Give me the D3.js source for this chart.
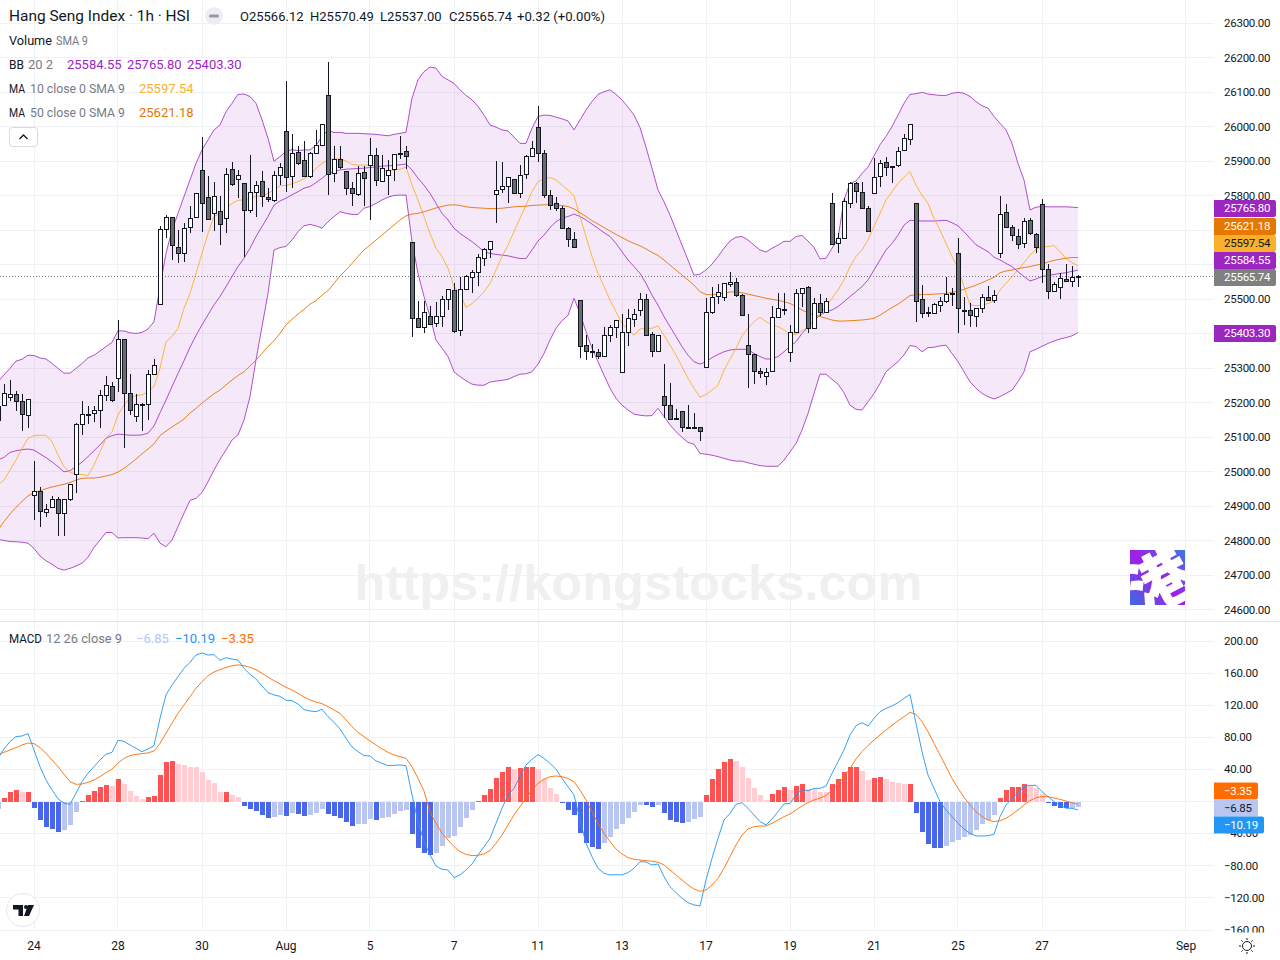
<!DOCTYPE html>
<html><head><meta charset="utf-8">
<script src="https://d3js.org/d3.v7.min.js"></script>
<style>html,body{margin:0;padding:0;background:#fff}svg{display:block}text{font-family:Roboto,sans-serif}</style>
</head><body><svg id="c" width="1280" height="960"></svg>
<script>
const opens=[25190,25193,25216,25225,25204,25164,24932,24944,24883,24897,
24920,24880,24920,24993,25138,25166,25170,25178,25222,25248,
25271,25384,25228,25161,25197,25196,25283,25485,25703,25738,
25651,25635,25709,25738,25874,25796,25751,25755,25735,25877,
25848,25836,25758,25810,25842,25796,25787,25860,25987,25857,
25926,25903,25857,25923,25947,26092,25865,25906,25873,25822,
25804,25868,25890,25918,25842,25860,25877,25925,25929,25665,
25445,25421,25451,25430,25451,25500,25526,25410,25529,25564,
25578,25619,25645,25804,25819,25828,25848,25807,25862,25915,
25999,25923,25802,25778,25764,25706,25674,25497,25367,25351,
25346,25335,25396,25419,25288,25404,25442,25468,25500,25398,
25349,25219,25193,25155,25175,25131,25131,25129,25303,25462,
25509,25506,25543,25549,25512,25367,25340,25291,25277,25291,
25448,25473,25346,25404,25517,25535,25416,25488,25462,25778,
25662,25677,25778,25836,25810,25764,25807,25857,25897,25885,
25889,25932,25964,25778,25500,25464,25459,25483,25494,25518,
25633,25469,25468,25451,25474,25506,25497,25633,25752,25709,
25683,25662,25729,25688,25775,25587,25523,25535,25558,25552,25566.12];
const closes=[25150,25228,25225,25204,25167,25210,24944,24886,24891,24920,
24880,24920,24964,25138,25167,25168,25178,25222,25251,25207,
25384,25228,25178,25196,25196,25283,25309,25703,25738,25656,
25635,25706,25735,25807,25778,25732,25799,25717,25862,25833,
25860,25758,25810,25831,25799,25790,25860,25883,25854,25923,
25894,25857,25923,25947,26007,25862,25906,25883,25822,25807,
25865,25851,25918,25845,25880,25874,25920,25923,25915,25445,
25421,25462,25427,25451,25500,25529,25407,25529,25567,25578,
25622,25645,25668,25816,25828,25854,25807,25860,25915,25938,
25923,25802,25773,25764,25706,25674,25651,25364,25349,25350,
25335,25396,25419,25439,25404,25445,25456,25500,25396,25349,
25396,25195,25152,25156,25131,25130,25130,25117,25462,25506,
25520,25546,25549,25512,25454,25340,25291,25285,25288,25448,
25474,25472,25404,25517,25532,25416,25488,25462,25494,25659,
25677,25784,25836,25813,25764,25697,25854,25894,25883,25884,
25929,25967,26007,25494,25459,25463,25485,25494,25514,25517,
25474,25468,25454,25474,25506,25497,25512,25746,25709,25686,
25659,25726,25691,25651,25587,25523,25543,25561,25552,25564,25565.74];
const highs=[25200,25255,25266,25234,25226,25210,25031,24955,24906,24929,
24926,24920,24964,25141,25205,25191,25191,25237,25278,25259,
25440,25384,25283,25225,25198,25295,25326,25713,25744,25738,
25701,25722,25771,25807,25971,25856,25841,25798,25880,25897,
25875,25836,25918,25843,25872,25822,25872,25894,26133,25979,
25945,25959,25928,25991,26007,26188,25943,25943,25873,25841,
25885,25885,25967,25938,25918,25904,25920,25974,25943,25665,
25495,25494,25481,25491,25510,25529,25548,25566,25569,25585,
25630,25648,25668,25901,25899,25854,25848,25889,25918,25959,
26061,25933,25817,25796,25770,25709,25694,25497,25396,25369,
25355,25419,25425,25439,25456,25472,25472,25518,25515,25404,
25396,25312,25257,25181,25175,25195,25169,25131,25503,25535,
25544,25546,25579,25561,25514,25457,25340,25300,25300,25480,
25517,25517,25425,25529,25532,25539,25503,25514,25503,25807,
25691,25793,25839,25841,25839,25770,25909,25904,25912,25887,
25941,25978,26007,25778,25541,25479,25490,25506,25564,25532,
25677,25508,25488,25474,25514,25539,25527,25800,25776,25715,
25705,25735,25735,25693,25791,25602,25551,25575,25602,25597,25570.49];
const lows=[25100,25193,25205,25177,25119,25128,24859,24841,24870,24897,
24815,24815,24914,24940,25107,25139,25144,25127,25205,25202,
25231,25070,25165,25144,25119,25150,25280,25483,25677,25614,
25604,25609,25693,25738,25696,25732,25699,25657,25693,25827,
25795,25624,25749,25740,25767,25781,25781,25832,25812,25822,
25889,25857,25853,25923,25947,25802,25841,25877,25802,25769,
25798,25769,25730,25827,25842,25802,25843,25906,25877,25392,
25416,25403,25427,25421,25421,25469,25401,25395,25527,25519,
25540,25597,25621,25722,25809,25780,25804,25795,25850,25915,
25899,25793,25759,25756,25706,25651,25651,25331,25325,25331,
25328,25335,25375,25387,25288,25366,25420,25452,25396,25334,
25346,25155,25152,25152,25116,25130,25130,25090,25303,25456,
25486,25496,25537,25506,25454,25242,25255,25271,25251,25291,
25445,25454,25317,25404,25479,25401,25416,25452,25462,25657,
25633,25677,25766,25778,25764,25697,25807,25825,25858,25838,
25883,25929,25947,25433,25445,25448,25459,25462,25488,25481,
25403,25426,25419,25421,25459,25497,25488,25619,25709,25670,
25645,25648,25686,25635,25546,25502,25523,25502,25550,25537,25537];
const bbUpper=[25261,25281,25300,25321,25326,25338,25337,25330,25327,25314,
25300,25286,25286,25300,25314,25330,25338,25350,25363,25375,
25409,25408,25403,25401,25404,25414,25435,25537,25633,25701,
25749,25798,25846,25894,25933,25962,25991,26005,26044,26068,
26094,26095,26088,26068,26020,25967,25900,25914,25928,25934,
25931,25933,25933,25946,25972,25991,25983,25984,25981,25981,
25981,25980,25979,25978,25976,25974,25978,25981,25984,26083,
26136,26160,26173,26170,26146,26136,26126,26107,26091,26078,
26059,26034,26005,25999,25991,25988,25970,25952,25952,25996,
26030,26034,26033,26028,26023,26017,25991,26020,26049,26073,
26094,26102,26107,26094,26078,26057,26034,25998,25941,25880,
25817,25783,25744,25701,25657,25614,25570,25573,25585,25602,
25624,25648,25669,25680,25682,25672,25657,25643,25637,25648,
25657,25668,25668,25682,25685,25669,25650,25617,25619,25648,
25677,25788,25836,25843,25865,25883,25916,25948,25972,26001,
26034,26068,26094,26096,26100,26095,26093,26091,26091,26097,
26100,26097,26088,26073,26061,26054,26030,26010,25991,25952,
25894,25846,25759,25767,25769,25768,25768,25768,25768,25767,25765.8];
const bbBasis=[25034,25042,25056,25061,25064,25066,25063,25052,25041,25029,
25015,25000,25003,25015,25028,25044,25061,25078,25097,25105,
25109,25108,25106,25106,25107,25112,25133,25171,25208,25247,
25285,25322,25361,25395,25426,25455,25484,25508,25537,25566,
25595,25619,25648,25682,25711,25740,25773,25785,25793,25803,
25812,25822,25827,25838,25851,25865,25870,25875,25877,25878,
25879,25880,25882,25884,25886,25887,25888,25890,25892,25875,
25851,25831,25807,25778,25749,25730,25706,25691,25679,25667,
25653,25638,25633,25630,25628,25626,25622,25618,25618,25643,
25669,25686,25708,25725,25735,25740,25747,25740,25730,25718,
25706,25693,25682,25662,25638,25614,25595,25575,25546,25512,
25483,25450,25421,25392,25363,25338,25319,25312,25319,25331,
25340,25348,25353,25355,25355,25355,25343,25334,25327,25327,
25334,25348,25363,25377,25401,25419,25438,25454,25464,25469,
25479,25493,25508,25522,25537,25556,25585,25614,25643,25662,
25686,25715,25729,25728,25727,25727,25727,25728,25729,25722,
25713,25696,25677,25658,25648,25638,25622,25614,25604,25595,
25580,25566,25553,25559,25566,25569,25572,25575,25577,25581,25584.55];
const bbLower=[24804,24801,24798,24797,24796,24793,24778,24756,24742,24732,
24720,24715,24720,24727,24735,24752,24781,24802,24824,24824,
24808,24809,24809,24809,24808,24806,24822,24793,24783,24802,
24841,24880,24917,24923,24940,24971,25005,25036,25063,25092,
25107,25150,25218,25324,25421,25517,25643,25650,25653,25672,
25696,25713,25717,25713,25706,25725,25740,25754,25749,25746,
25746,25764,25769,25778,25788,25796,25801,25802,25802,25667,
25575,25508,25450,25382,25358,25334,25290,25276,25264,25254,
25251,25251,25260,25263,25265,25268,25276,25283,25284,25290,
25312,25343,25382,25416,25438,25453,25503,25459,25406,25358,
25319,25280,25242,25213,25193,25179,25167,25164,25162,25163,
25184,25160,25136,25116,25100,25085,25080,25053,25051,25048,
25044,25039,25034,25031,25031,25026,25022,25018,25016,25016,
25016,25034,25058,25082,25121,25169,25227,25283,25283,25268,
25254,25229,25193,25181,25179,25203,25227,25256,25290,25305,
25319,25339,25366,25363,25348,25360,25361,25365,25367,25343,
25319,25290,25261,25242,25227,25218,25211,25218,25227,25237,
25261,25290,25348,25355,25364,25372,25379,25385,25389,25394,25403.3];
const ma10=[24962,24976,25005,25034,25068,25097,25105,25106,25106,25087,
25049,25015,24998,24994,24992,24989,25020,25058,25097,25116,
25165,25194,25213,25221,25223,25232,25247,25300,25377,25392,
25416,25474,25517,25575,25633,25691,25740,25749,25764,25778,
25787,25788,25793,25798,25800,25807,25817,25829,25830,25835,
25841,25849,25860,25880,25894,25904,25907,25907,25901,25891,
25889,25889,25889,25888,25875,25870,25875,25877,25883,25831,
25788,25740,25691,25648,25624,25590,25537,25517,25476,25488,
25503,25522,25546,25585,25624,25657,25696,25735,25773,25812,
25841,25849,25853,25846,25831,25817,25800,25740,25682,25624,
25575,25537,25498,25464,25430,25413,25396,25414,25416,25416,
25423,25396,25367,25338,25305,25271,25242,25216,25224,25237,
25251,25295,25326,25358,25394,25416,25435,25448,25435,25425,
25421,25411,25399,25398,25409,25419,25438,25457,25479,25503,
25527,25556,25595,25624,25643,25672,25711,25749,25788,25812,
25836,25854,25870,25831,25802,25778,25735,25701,25662,25624,
25590,25537,25483,25482,25483,25488,25495,25527,25546,25566,
25585,25606,25628,25646,25651,25653,25656,25638,25619,25606,25597.54];
const ma50=[24831,24856,24878,24897,24914,24930,24940,24945,24951,24956,
24960,24964,24969,24976,24981,24982,24982,24984,24988,24992,
24999,25010,25023,25037,25052,25066,25081,25105,25118,25130,
25141,25153,25170,25184,25199,25213,25226,25237,25252,25266,
25279,25290,25307,25324,25343,25363,25380,25401,25426,25442,
25457,25471,25486,25496,25512,25525,25546,25568,25585,25604,
25624,25643,25657,25672,25686,25701,25715,25730,25742,25747,
25749,25754,25759,25765,25769,25773,25774,25772,25768,25766,
25765,25764,25763,25763,25764,25766,25768,25769,25770,25772,
25773,25774,25774,25773,25772,25769,25762,25751,25740,25728,
25718,25708,25698,25688,25679,25670,25662,25655,25646,25636,
25627,25614,25599,25585,25570,25556,25541,25522,25514,25513,
25515,25518,25521,25522,25519,25515,25511,25507,25503,25500,
25497,25493,25488,25479,25469,25461,25454,25450,25445,25440,
25437,25437,25438,25439,25440,25442,25445,25454,25465,25476,
25486,25498,25511,25513,25514,25514,25515,25516,25517,25520,
25524,25529,25535,25541,25548,25556,25564,25577,25582,25585,
25589,25592,25595,25599,25602,25608,25613,25616,25619,25621,25621.18];
const macdHist=[-9.5,4.2,11.6,14.1,11.6,11.8,-8.3,-23.3,-32,-34.5,
-38.2,-35.7,-29.5,-13.3,0.8,7.9,12.9,17.9,20.4,19.1,
27.8,21.6,12.9,6.6,2.9,5.4,6.6,32.8,49,50.3,
46.5,45.3,42.8,42.7,36.6,26.6,22.8,11.6,11.8,7.9,
5.4,-5.8,-9.6,-12,-17,-20.8,-19.5,-17,-18.3,-14.5,
-15.8,-18.3,-17,-14.5,-9.6,-15.8,-18.3,-20.8,-25.8,-30.7,
-28.2,-28,-22,-23.3,-20.8,-19.5,-15.8,-12,-10.8,-40.7,
-58.2,-64.4,-66.5,-64,-55.3,-44.9,-42.8,-31.6,-20.4,-10.4,
0.8,8.3,15.8,29.5,37,43.2,40.7,42,43.2,43.3,
40.7,28.2,17,9.6,-1.7,-10.4,-16.6,-39,-51.5,-56.5,
-59,-51.5,-44,-34,-27.8,-20.4,-12.9,-4.2,-4.3,-6.6,
-4.2,-14.1,-22.8,-25.3,-26.6,-25.3,-21.6,-19.1,8.3,28.2,
40.7,49.4,53.2,50.7,43.2,29.5,17,8.3,2,9.6,
14.5,18.3,14.5,19.5,22,15.8,15.7,12,11.9,22,
28.2,37,43.2,43.3,38.2,27,29.5,30.7,28.2,24.5,
23.3,22,22.1,-14.1,-37.8,-52.8,-57.7,-57.8,-55.3,-50.3,
-47.8,-44,-41.5,-35.3,-27.8,-22.8,-16.6,4.6,14.5,18.3,
18.4,22,19.5,17,9.6,-1.7,-5.4,-7.9,-8,-7.7,-6.85];
const macdLine=[54,65.7,74.8,81,81.9,84.8,64.4,43.6,27,14.6,
3.4,-2,-3.3,10.4,25,35.3,43.6,52,59,61.5,
76.5,75.2,70.6,66.5,62.3,65.7,69.8,103.9,133,145.4,
155.8,166.2,173.7,182.8,185.3,182.8,183.2,176.2,179.5,177.8,
176.6,166.2,158.7,152.9,144.2,135.9,133,131.3,126.3,125.9,
121.8,114.7,113,112.2,115.1,106,98.9,90.6,79,68.2,
62.3,57.4,57,50.7,47.8,44.9,45.3,45.7,44.9,8.3,
-24.9,-49.8,-66.5,-80.2,-84.4,-85.2,-94.7,-91.4,-85.2,-77.7,
-66.5,-56.1,-45.7,-27,-8.3,8.3,16.6,31.1,45.7,52.7,
58.6,54,47.8,40.3,29,18.7,8.3,-22.9,-51.9,-68.6,
-83.1,-89.3,-91.4,-91,-91.4,-88.5,-83.1,-74.8,-75.2,-79,
-77.7,-93.5,-106,-113.4,-120.5,-125.9,-128.8,-130,-97.6,-70.6,
-45.7,-22.9,-14.6,-3.3,-1.3,-8.3,-16.6,-25,-29.1,-21.6,
-12.5,-2.9,-2.1,8.3,15.3,13.3,16.6,16.6,19.5,35.3,
49.8,64.4,83.1,94.7,98.4,94.3,103.8,112.1,116.3,119.2,
123.4,128.8,133.7,97.6,62.3,33.2,16.6,0,-10.4,-18.7,
-27,-34.1,-39.5,-42.8,-42.8,-42.4,-40.7,-18.7,-4.2,4.1,
10.4,18.7,20.3,20.3,12.4,6.2,0,-4.2,-8.3,-8.3,-10.19];
const macdSignal=[59,61.5,64.4,67.3,70.6,73.1,72.3,67.3,60.3,52,
43.6,34.1,25,21.6,22,24.1,27,31.2,36.2,40.7,
47.8,54,57.4,59,59.9,60.7,63.2,72.7,85.2,97.7,
110.1,120.5,130.9,141.3,149.6,157,161.6,164.5,167.4,169.5,
170.4,169.5,167.4,164.5,160,155.4,150.8,146.7,142.5,139.2,
135,130.5,126.7,124.2,122.2,118.4,114.3,110.1,101.8,93.5,
86.4,81,75.6,70.6,65.7,61.5,58.2,56.1,54,43.6,
29.1,13.3,-12.5,-27,-39.5,-47.8,-56.1,-62.3,-65.7,-67.3,
-66.9,-65.2,-61.1,-52,-41.6,-29.1,-16.6,-6.3,4.1,14.5,
22.8,27.8,31.1,32,31.1,29,24.9,14.5,2,-12.5,
-27,-39.5,-49.9,-59,-65.2,-69.8,-71.9,-72.7,-73.5,-74.4,
-75.6,-78.9,-85.2,-91.4,-97.6,-103.9,-108.9,-111.8,-110.1,-103.9,
-95.6,-83.1,-68.6,-54,-41.6,-34.1,-31.2,-30.4,-30.4,-27,
-22.9,-18.7,-15.4,-10.4,-5.4,-1.3,2,4.5,7.5,14.5,
21.6,31.1,41.5,53.2,62.3,69.8,76.8,83.1,89.3,95.1,
100.9,105.9,111.3,108.8,99.7,87.2,72.7,58.1,43.6,29,
16.6,5.4,-4.2,-12.5,-18.7,-22.9,-24.9,-23.7,-20.8,-15.8,
-10.4,-4.2,1.2,5,6.2,6.2,4.5,2.9,0.8,-1.3,-3.35];
const priceTicks=d3.range(24600,26301,100);
const macdTicks=d3.range(-160,201,40);
const timeBars=[6,20,34,48,62,76,90,104,118,132,146,160,174,198];
const timeLabels=["24","28","30","Aug","5","7","11","13","17","19","21","25","27","Sep"];
const chartW=1214;
const dark="#131722",gray="#787b86",purple="#9c27c0",amber="#f9b02c",orange="#e67700",blueLine="#2196f3",sigLine="#ff6d00";
const fmt=d=>d.toFixed(2).replace("-","\u2212");

const svg=d3.select("#c");
const defs=svg.append("defs");
const clip=(id,x,y,w,h)=>defs.append("clipPath").attr("id",id).append("rect").attr("x",x).attr("y",y).attr("width",w).attr("height",h);
clip("pMain",0,0,chartW,621);clip("pMacd",0,622,chartW,310);clip("pAxis",chartW,622,66,310.5);
const grad=defs.append("linearGradient").attr("id","lg").attr("x1","0").attr("y1","1").attr("x2","1").attr("y2","0");
grad.append("stop").attr("offset","0").attr("stop-color","#3d6be4");
grad.append("stop").attr("offset","0.5").attr("stop-color","#a01ee6");
grad.append("stop").attr("offset","1").attr("stop-color","#3d78e4");

const x=d3.scaleLinear([0,214],[-2,1282]);
const yP=d3.scaleLinear([24600,26300],[609.8,23.3]);
const yM=d3.scaleLinear([-160,200],[930,641.2]);
const snap=v=>Math.round(v-.5)+.5;

// last-value tags: price tags stack upward from the last close
const priceTags=[[closes[180],"#808080","#fff"],[bbBasis[180],purple,"#fff"],[ma10[180],amber,"#131722"],[ma50[180],orange,"#fff"],[bbUpper[180],purple,"#fff"]];
let prev=Infinity;
const priceTagY=priceTags.map(([v])=>{const yc=Math.min(yP(v),prev-17);prev=yc;return yc;});
priceTagY.push(yP(bbLower[180]));
const midY=yM(macdHist[180]);
const macdTagY=[midY-17,midY,midY+17];
const shown=(ticks,y,tags)=>ticks.filter(t=>!tags.some(c=>Math.abs(y(t)-c)<7));

// grid
const grid=svg.append("g").attr("stroke","#f0f1f4").attr("stroke-width",1).attr("shape-rendering","crispEdges");
priceTicks.forEach(t=>grid.append("line").attr("x1",0).attr("x2",chartW).attr("y1",snap(yP(t))).attr("y2",snap(yP(t))));
macdTicks.forEach(t=>grid.append("line").attr("x1",0).attr("x2",chartW).attr("y1",snap(yM(t))).attr("y2",snap(yM(t))));
timeBars.forEach(b=>grid.append("line").attr("x1",snap(x(b))).attr("x2",snap(x(b))).attr("y1",0).attr("y2",931));

// watermark
svg.append("text").attr("x",638.5).attr("y",600).attr("text-anchor","middle")
 .style("font-family","'Liberation Sans',sans-serif").style("font-weight",700).style("font-size","50.6px").attr("fill","#f0f0f0").text("https://kongstocks.com");

const main=svg.append("g").attr("clip-path","url(#pMain)");
const idx=d3.range(opens.length);
main.append("path").attr("fill","#9c27c0").attr("fill-opacity",0.1)
 .attr("d",d3.area().x(i=>x(i)).y0(i=>yP(bbLower[i])).y1(i=>yP(bbUpper[i]))(idx));
const lineOf=(arr,y)=>d3.line().x((d,i)=>x(i)).y(d=>y(d))(arr);
[[bbUpper,purple,.8],[bbLower,purple,.8],[bbBasis,purple,.8],[ma10,amber,.9],[ma50,orange,.9]].forEach(([a,c,o])=>
 main.append("path").attr("fill","none").attr("stroke",c).attr("stroke-opacity",o).attr("stroke-width",1).attr("d",lineOf(a,yP)));
// last price dotted
main.append("line").attr("x1",0).attr("x2",chartW).attr("y1",snap(yP(closes[180]))).attr("y2",snap(yP(closes[180])))
 .attr("stroke","#787b86").attr("stroke-width",1).attr("stroke-dasharray","1 2");
// candles
const cg=main.append("g").attr("shape-rendering","crispEdges");
idx.forEach(i=>{
 const cx=Math.round(x(i))+.5;
 const top=Math.round(yP(Math.max(opens[i],closes[i])));
 const bot=Math.round(yP(Math.min(opens[i],closes[i])));
 cg.append("line").attr("x1",cx).attr("x2",cx).attr("y1",yP(highs[i])).attr("y2",yP(lows[i])).attr("stroke","#131722");
 cg.append("rect").attr("x",cx-2).attr("width",4).attr("y",top+.5).attr("height",Math.max(bot-top,1))
  .attr("fill",closes[i]>=opens[i]?"#ffffff":"#6b6b6b").attr("stroke","#131722");
});

// MACD pane
svg.append("line").attr("x1",0).attr("x2",1280).attr("y1",621.5).attr("y2",621.5).attr("stroke","#e0e3eb");
const mg=svg.append("g").attr("clip-path","url(#pMacd)");
const y0=yM(0);
const hg=mg.append("g").attr("shape-rendering","crispEdges");
macdHist.forEach((v,i)=>{
 const p=i?macdHist[i-1]:v;
 const col=v>=0?(v>=p?"#ff5252":"#ffcdd2"):(v<p?"#4a67ec":"#b9c6f2");
 hg.append("rect").attr("x",Math.round(x(i))-2).attr("width",5)
  .attr("y",Math.min(yM(v),y0)).attr("height",Math.abs(yM(v)-y0)).attr("fill",col);
});
mg.append("path").attr("fill","none").attr("stroke",blueLine).attr("stroke-opacity",.9).attr("d",lineOf(macdLine,yM));
mg.append("path").attr("fill","none").attr("stroke",sigLine).attr("stroke-opacity",.9).attr("d",lineOf(macdSignal,yM));

// axes
const styleAxis=g=>{g.select(".domain").remove();g.selectAll("text").attr("fill",dark).style("font-size","12px").style("font-family","Roboto,sans-serif");};
const narrow=g=>g.selectAll("text").style("font-size","11.5px").style("letter-spacing","-0.25px");
svg.append("g").attr("transform","translate(1214,0)").call(d3.axisRight(yP).tickValues(shown(priceTicks,yP,priceTagY.map(v=>v+.5))).tickSize(0).tickPadding(10).tickFormat(fmt)).call(styleAxis).call(narrow);
svg.append("g").attr("clip-path","url(#pAxis)").append("g").attr("transform","translate(1214,-0.5)")
 .call(d3.axisRight(yM).tickValues(shown(macdTicks,yM,macdTagY)).tickSize(0).tickPadding(10).tickFormat(fmt)).call(styleAxis).call(narrow);
svg.append("g").attr("transform","translate(-0.5,933)").call(d3.axisBottom(x).tickValues(timeBars).tickSize(0).tickPadding(8).tickFormat((d,i)=>timeLabels[i])).call(styleAxis);

// last-value pills
const pill=(yc0,val,bg,fg,w)=>{
 const yc=yc0+.8;
 const g=svg.append("g");
 g.append("path").attr("fill",bg).attr("d",`M1214 ${yc-8.5}H${1214+w-2}a2 2 0 0 1 2 2V${yc+6.5}a2 2 0 0 1 -2 2H1214Z`);
 g.append("text").attr("x",1224).attr("y",yc+4).attr("fill",fg).style("font-size","11.5px").style("letter-spacing","-0.25px").text(fmt(val));
};
priceTags.forEach(([v,bg,fg],i)=>pill(priceTagY[i],v,bg,fg,62));
pill(priceTagY[5],bbLower[180],purple,"#fff",62);
pill(macdTagY[0],macdSignal[180],"#ff6d00","#fff",44);
pill(macdTagY[1],macdHist[180],"#b9c6f2","#131722",44);
pill(macdTagY[2],macdLine[180],"#2196f3","#fff",50);

// legend
const lg=svg.append("g");
const t=(xp,yp,s,c,fs,len)=>{const e=lg.append("text").attr("x",xp).attr("y",yp).attr("fill",c).style("font-size",(fs||13)+"px").text(s);
 if(len)e.attr("textLength",len).attr("lengthAdjust","spacingAndGlyphs");return e;};
t(9,21,"Hang Seng Index \u00b7 1h \u00b7 HSI",dark,15,181);
lg.append("circle").attr("cx",214).attr("cy",16).attr("r",9).attr("fill","#eceef2");
lg.append("rect").attr("x",209).attr("y",14.5).attr("width",10).attr("height",3).attr("rx",1.5).attr("fill","#9598a1");
const ohlc=[["O",opens[180]],["H",highs[180]],["L",lows[180]],["C",closes[180]]];
const ohlcX=[240,310,380,449];
ohlc.forEach(([k,v],i)=>t(ohlcX[i],21,k+v.toFixed(2),dark));
t(517,21,"+0.32 (+0.00%)",dark,13,88);
t(9,45,"Volume",dark,13,43);t(56,45,"SMA 9",gray,13,32);
t(9,69,"BB",dark,13,15);t(28,69,"20 2",gray,13,25);
t(67,69,bbBasis[180].toFixed(2),purple);t(127,69,bbUpper[180].toFixed(2),purple);t(187,69,bbLower[180].toFixed(2),purple);
t(9,93,"MA",dark,13,16);t(30,93,"10 close 0 SMA 9",gray,13,95);t(139,93,ma10[180].toFixed(2),amber);
t(9,117,"MA",dark,13,16);t(30,117,"50 close 0 SMA 9",gray,13,95);t(139,117,ma50[180].toFixed(2),orange);
lg.append("rect").attr("x",9.5).attr("y",127.5).attr("width",28).attr("height",19).attr("rx",3).attr("fill","#fff").attr("stroke","#d8dae3");
lg.append("path").attr("d","M19.5 139L23.5 135L27.5 139").attr("fill","none").attr("stroke","#131722").attr("stroke-width",1.3);
t(9,643,"MACD",dark,13,33);t(46,643,"12 26 close 9",gray,13,76);
t(136,643,fmt(macdHist[180]),"#b9c6f2");t(175,643,fmt(macdLine[180]),blueLine);t(221,643,fmt(macdSignal[180]),sigLine);

// logo square
const logo=svg.append("g");
defs.append("clipPath").attr("id","pLogo").append("rect").attr("x",1130).attr("y",550).attr("width",55).attr("height",55);
logo.append("rect").attr("x",1130).attr("y",550).attr("width",55).attr("height",55).attr("fill","url(#lg)");
logo.append("g").attr("clip-path","url(#pLogo)").append("text").attr("transform","translate(1157.5,578) rotate(-28)")
 .attr("text-anchor","middle").attr("dominant-baseline","central").attr("fill","#fff").attr("stroke","#fff").attr("stroke-width",0.7)
 .style("font-family","'Noto Sans CJK SC',sans-serif").style("font-weight",900).style("font-size","62px").text("港");

// TV logo
svg.append("circle").attr("cx",23).attr("cy",910).attr("r",16.5).attr("fill","#fff").attr("stroke","#e8e9ee");
svg.append("path").attr("fill","#131722").attr("d","M13 905H23V916H18.5V909.5H13Z M28 905L34 905L29 916H24Z");
svg.append("circle").attr("cx",26).attr("cy",907).attr("r",2).attr("fill","#131722");
// sun icon
const sun=svg.append("g").attr("stroke","#131722").attr("stroke-width",1).attr("fill","none");
sun.append("circle").attr("cx",1247).attr("cy",946).attr("r",4.5);
d3.range(8).forEach(k=>{const a=k*Math.PI/4;sun.append("line").attr("x1",1247+6*Math.cos(a)).attr("y1",946+6*Math.sin(a)).attr("x2",1247+8*Math.cos(a)).attr("y2",946+8*Math.sin(a));});
</script></body></html>
